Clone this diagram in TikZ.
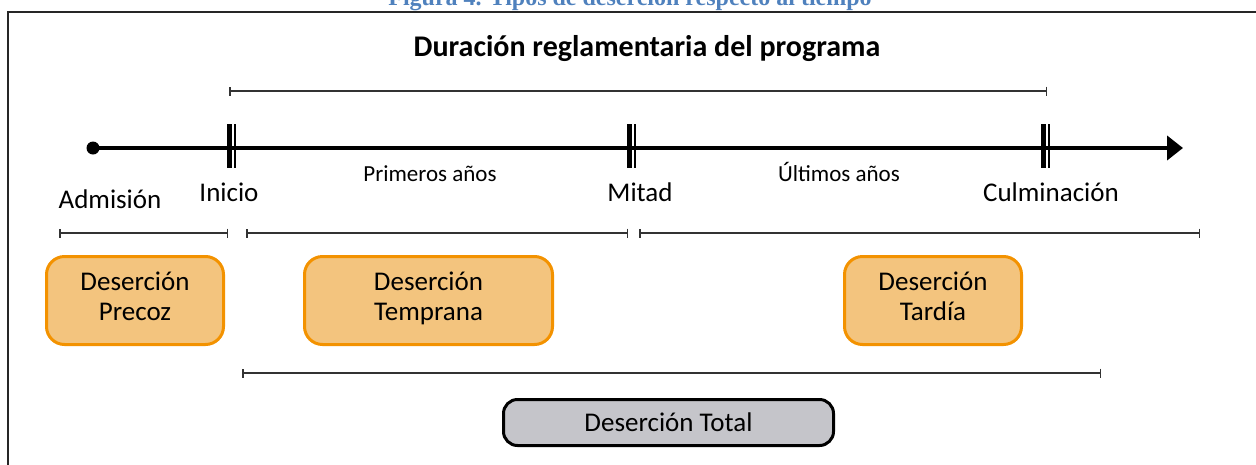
\documentclass[tikz,border=0pt]{standalone}
\usepackage{fontspec}
\setmainfont{Carlito}
\newfontfamily\captionfont{Liberation Serif}
\usetikzlibrary{arrows.meta}
\definecolor{stageorange}{HTML}{F39200}
\definecolor{stagefill}{HTML}{F3C47E}
\definecolor{totalgray}{HTML}{C5C5CA}
\definecolor{captionblue}{HTML}{4F81BD}
\tikzset{
    span/.style={draw=black!80, line width=1.5pt, {Bar[width=9pt]}-{Bar[width=9pt]}},
    stage/.style={draw=stageorange, fill=stagefill, line width=3pt, rounded corners=18pt,
        minimum width=177pt, minimum height=88pt, align=center, font=\fontsize{27}{30}\selectfont},
    milestone/.style={anchor=base, font=\fontsize{27}{30}\selectfont},
    period/.style={anchor=base, font=\fontsize{23}{26}\selectfont},
}
\begin{document}
\begin{tikzpicture}[x=1pt, y=-1pt]
    \useasboundingbox (0,0) rectangle (1256,464);
    \clip (0,0) rectangle (1256,464);
    % caption and frame
    \node[anchor=base, text=captionblue, font=\captionfont\bfseries\fontsize{24}{26}\selectfont] (caption) at (630,5) {Figura 4. Tipos de deserción respecto al tiempo};
    \draw[line width=2pt, black!85] (8,470) -- (8,12) -- (1262,12);
    \node[font=\bfseries\fontsize{30}{32}\selectfont] (title) at (647,49) {Duración reglamentaria del programa};
    \draw[span] (229,91) -- (1047,91);
    % time axis
    \node[circle, fill, inner sep=0pt, minimum size=13pt] (admission) at (93,148) {};
    \coordinate (axisend) at (1183,148);
    \draw[line width=4pt, -{Triangle[length=16pt, width=24pt]}] (admission.center) -- (axisend);
    \foreach \x in {229, 629, 1043} {
        \draw[line width=5pt] (\x,124) -- (\x,168);
        \draw[line width=1.5pt] (\x+6,124) -- (\x+6,168);
    }
    \node[milestone] (admlabel) at (110,208) {Admisión};
    \node[milestone] (inicio) at (229,201) {Inicio};
    \node[period] (primeros) at (430,181) {Primeros años};
    \node[milestone] (mitad) at (640,201) {Mitad};
    \node[period] (ultimos) at (839,181) {Últimos años};
    \node[milestone] (culminacion) at (1051,201) {Culminación};
    % types of dropout
    \draw[span] (59,233) -- (228,233);
    \draw[span] (246,233) -- (628,233);
    \draw[span] (639,233) -- (1200,233);
    \node[stage] (precoz) at (135,300.5) {Deserción\\Precoz\strut};
    \node[stage, minimum width=248pt] (temprana) at (428.5,300.5) {Deserción\\Temprana\strut};
    \node[stage] (tardia) at (933,300.5) {Deserción\\Tardía\strut};
    \draw[span] (242,373) -- (1101,373);
    \node[draw=black, fill=totalgray, line width=3pt, rounded corners=14pt, minimum width=330pt,
        minimum height=46pt, font=\fontsize{27}{30}\selectfont] (total) at (668.5,422.5) {Deserción Total};
\end{tikzpicture}
\end{document}
